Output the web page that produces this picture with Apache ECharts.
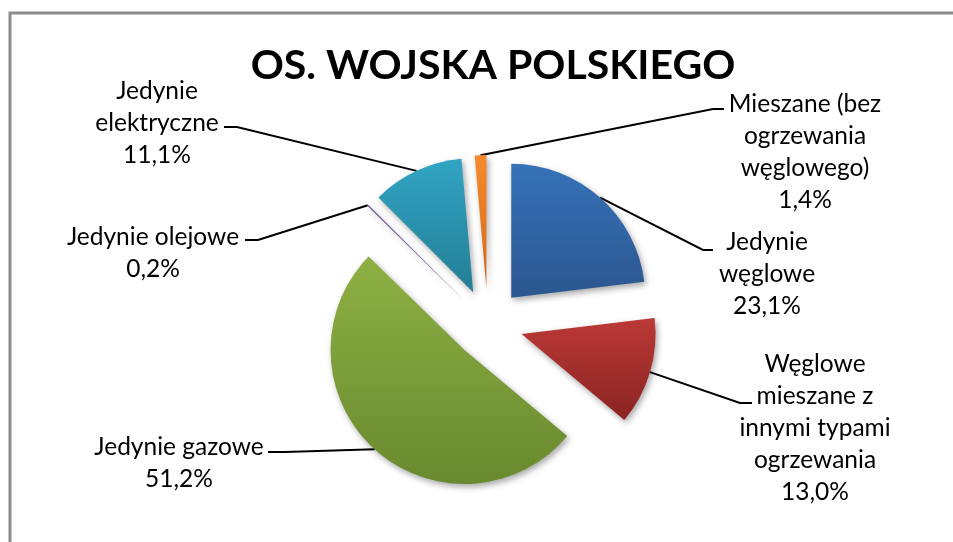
<!DOCTYPE html>
<html>
<head>
<meta charset="utf-8">
<script src="https://cdn.jsdelivr.net/npm/echarts@6/dist/echarts.min.js"></script>
<style>
  html, body { margin: 0; padding: 0; background: #fff; }
  #main { width: 953px; height: 542px; }
</style>
</head>
<body>
<div id="main"></div>
<script>
// dane
var categories = ['Jedynie węglowe', 'Węglowe mieszane z innymi typami ogrzewania', 'Jedynie gazowe',
  'Jedynie olejowe', 'Jedynie elektryczne', 'Mieszane (bez ogrzewania węglowego)'];
var labelNames = ['Jedynie\nwęglowe', 'Węglowe\nmieszane z\ninnymi typami\nogrzewania', 'Jedynie gazowe',
  'Jedynie olejowe', 'Jedynie\nelektryczne', 'Mieszane (bez\nogrzewania\nwęglowego)'];
var values = [23.1, 13.0, 51.2, 0.2, 11.1, 1.4];
var percentLabels = ['23,1%', '13,0%', '51,2%', '0,2%', '11,1%', '1,4%'];

// kolory (gradient góra -> dół)
var topColors = ['#3672b8', '#bb3936', '#8eb144', '#8064a2', '#32a4c3', '#f68a2c'];
var bottomColors = ['#2b568f', '#8a2422', '#69892f', '#5e4a7a', '#237e95', '#d4681a'];

// położenie etykiet: środek tekstu, punkt załamania linii, koniec linii
var labelPos = [[767, 274], [815, 428], [179, 463], [153, 253], [157, 123], [805, 152]];
var lineBend = [[703, 250], [740, 403], [285, 452], [258, 240], [237, 127], [713, 109]];
var lineEnd = [[713, 250], [752, 403], [268, 452], [245, 240], [224, 127], [724, 109]];

var pieCenter = [488, 324];
var pieRadius = 134;
var explode = 35;

var myChart = echarts.init(document.getElementById('main'));

var total = values.reduce(function (a, b) { return a + b; }, 0);

function makeLayout(i) {
  return function (params) {
    if (params.dataIndex !== i || !params.labelLinePoints) {
      return {};
    }
    return {
      x: labelPos[i][0],
      y: labelPos[i][1],
      align: 'center',
      verticalAlign: 'middle',
      labelLinePoints: [params.labelLinePoints[0], lineBend[i], lineEnd[i]]
    };
  };
}

// każdy wycinek w osobnej serii, przesunięty wzdłuż swojego środkowego kąta
var series = [];
var cum = 0;
values.forEach(function (v, i) {
  var theta = (cum + v / 2) / total * 2 * Math.PI;
  cum += v;
  var data = values.map(function (w, j) {
    if (j !== i) {
      return { value: w, name: categories[j], itemStyle: { color: 'rgba(0,0,0,0)' },
        label: { show: false }, labelLine: { show: false } };
    }
    return {
      value: w,
      name: categories[j],
      itemStyle: {
        color: new echarts.graphic.LinearGradient(0, 0, 0, 1, [
          { offset: 0, color: topColors[j] },
          { offset: 1, color: bottomColors[j] }
        ]),
        shadowBlur: 6,
        shadowColor: 'rgba(0,0,0,0.35)',
        shadowOffsetX: 2,
        shadowOffsetY: 3
      }
    };
  });
  series.push({
    type: 'pie',
    center: [pieCenter[0] + Math.sin(theta) * explode, pieCenter[1] - Math.cos(theta) * explode],
    radius: pieRadius,
    startAngle: 90,
    clockwise: true,
    silent: true,
    avoidLabelOverlap: false,
    emphasis: { disabled: true },
    label: {
      show: true,
      fontFamily: 'Lato',
      fontSize: 24.5,
      lineHeight: 32,
      color: '#000',
      align: 'center',
      formatter: function (p) {
        return labelNames[p.dataIndex] + '\n' + percentLabels[p.dataIndex];
      }
    },
    labelLine: {
      show: true,
      lineStyle: { color: '#000', width: 2 }
    },
    labelLayout: makeLayout(i),
    data: data
  });
});

var option = {
  animation: false,
  backgroundColor: '#fff',
  title: {
    text: 'OS. WOJSKA POLSKIEGO',
    left: 488,
    top: 40,
    textAlign: 'center',
    textStyle: { fontFamily: 'Lato', fontWeight: 'bold', fontSize: 41, color: '#000' }
  },
  graphic: [{
    type: 'rect',
    shape: { x: 10, y: 13, width: 980, height: 560 },
    style: { fill: 'none', stroke: '#8c8c8c', lineWidth: 3 },
    silent: true
  }],
  series: series
};

myChart.setOption(option);
</script>
</body>
</html>
